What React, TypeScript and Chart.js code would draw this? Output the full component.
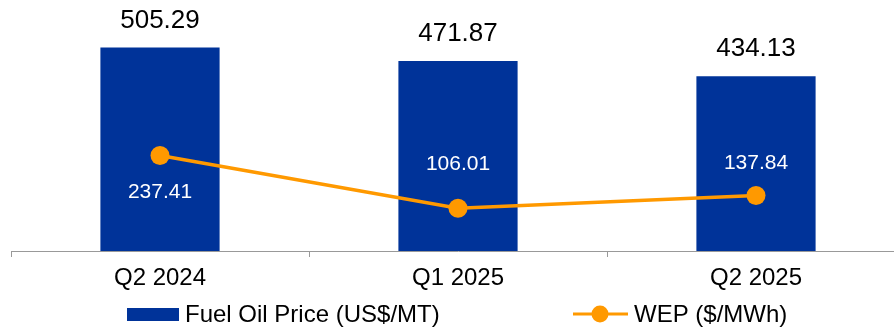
import React, { useEffect, useRef } from "react";
import { Chart, registerables } from "chart.js";

Chart.register(...registerables);

const categories = ["Q2 2024", "Q1 2025", "Q2 2025"];
const fuelOilPrice = [505.29, 471.87, 434.13];
const wep = [237.41, 106.01, 137.84];
const seriesNames = ["Fuel Oil Price (US$/MT)", "WEP ($/MWh)"];

// style: vertical offsets of the WEP value labels relative to their points
const wepLabelOffsets = [37, -44, -32];

const FONT = '"Liberation Sans", Arial, sans-serif';
const BLUE = "rgb(0,51,153)";
const ORANGE = "rgb(255,153,0)";

const labelsPlugin = {
  id: "customLabels",
  afterDatasetsDraw(chart: any) {
    const ctx = chart.ctx;
    ctx.save();
    ctx.textAlign = "center";
    ctx.textBaseline = "middle";
    const barMeta = chart.getDatasetMeta(0);
    ctx.fillStyle = "#000";
    ctx.font = `26px ${FONT}`;
    barMeta.data.forEach((el: any, i: number) => {
      ctx.fillText(fuelOilPrice[i].toFixed(2), el.x, el.y - 27);
    });
    const lineMeta = chart.getDatasetMeta(1);
    ctx.fillStyle = "#fff";
    ctx.font = `21px ${FONT}`;
    lineMeta.data.forEach((el: any, i: number) => {
      ctx.fillText(wep[i].toFixed(2), el.x, el.y + wepLabelOffsets[i]);
    });

    // legend
    ctx.textAlign = "left";
    ctx.textBaseline = "alphabetic";
    ctx.fillStyle = BLUE;
    ctx.fillRect(127, 308, 52, 13);
    ctx.fillStyle = "#000";
    ctx.font = `24px ${FONT}`;
    ctx.fillText(seriesNames[0], 185, 322);

    ctx.strokeStyle = ORANGE;
    ctx.lineWidth = 3;
    ctx.beginPath();
    ctx.moveTo(573, 314);
    ctx.lineTo(628, 314);
    ctx.stroke();
    ctx.fillStyle = ORANGE;
    ctx.beginPath();
    ctx.arc(600, 314, 8.5, 0, Math.PI * 2);
    ctx.fill();
    ctx.fillStyle = "#000";
    ctx.fillText(seriesNames[1], 634, 322);
    ctx.restore();
  },
};

export default function App() {
  const ref = useRef<HTMLCanvasElement>(null);
  useEffect(() => {
    if (!ref.current) return;
    const chart = new Chart(ref.current, {
      type: "bar",
      data: {
        labels: categories,
        datasets: [
          {
            type: "bar",
            label: seriesNames[0],
            data: fuelOilPrice,
            backgroundColor: BLUE,
            borderWidth: 0,
            barPercentage: 0.4,
            categoryPercentage: 1,
            order: 2,
          },
          {
            type: "line",
            label: seriesNames[1],
            data: wep,
            borderColor: ORANGE,
            backgroundColor: ORANGE,
            borderWidth: 3.5,
            pointRadius: 9.5,
            pointBackgroundColor: ORANGE,
            pointBorderWidth: 0,
            tension: 0,
            order: 1,
          },
        ],
      },
      options: {
        responsive: false,
        animation: false,
        devicePixelRatio: 1,
        layout: { padding: { left: 11, right: 15, top: 8, bottom: 0 } },
        plugins: { legend: { display: false }, tooltip: { enabled: false } },
        scales: {
          x: {
            offset: true,
            grid: {
              offset: true,
              drawOnChartArea: false,
              drawTicks: true,
              tickLength: 6,
              color: "#999",
            },
            border: { display: true, color: "#999" },
            ticks: {
              color: "#000",
              font: { family: FONT, size: 24 },
              padding: 7,
              maxRotation: 0,
            },
            afterFit: (scale: any) => {
              scale.height = 80;
            },
          },
          y: {
            display: false,
            min: 0,
            max: 600,
          },
        },
      },
      plugins: [labelsPlugin],
    });
    return () => chart.destroy();
  }, []);
  return (
    <div
      style={{
        position: "fixed",
        left: 0,
        top: 0,
        width: 894,
        height: 331,
        overflow: "hidden",
        background: "#fff",
      }}
    >
      <canvas
        ref={ref}
        width={920}
        height={331}
        style={{ width: 920, height: 331, display: "block" }}
      />
    </div>
  );
}
